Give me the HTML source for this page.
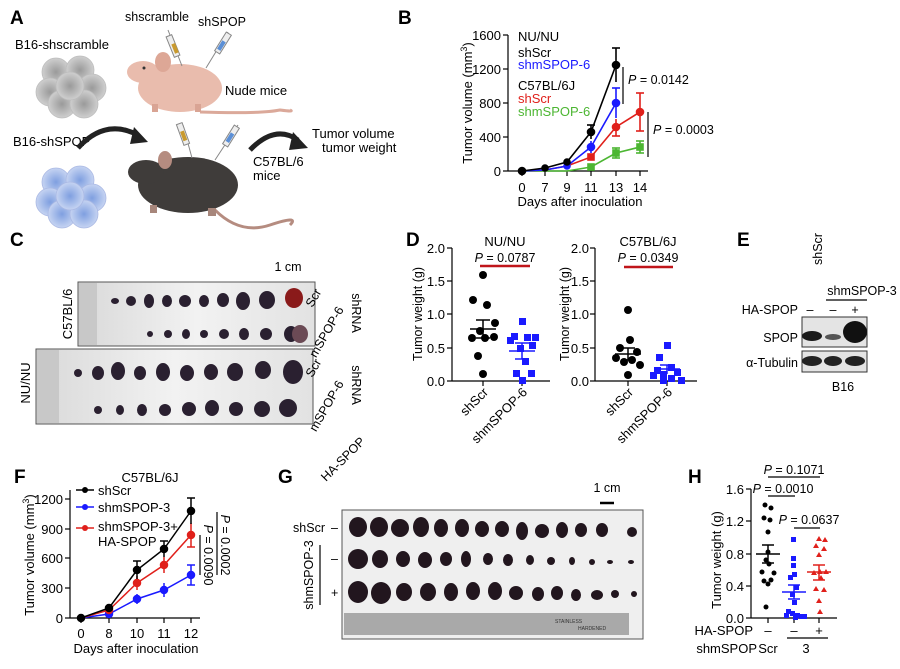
<!DOCTYPE html>
<html><head><meta charset="utf-8"><style>
html,body{margin:0;padding:0;background:#fff;}
svg{display:block;font-family:"Liberation Sans",Arial,sans-serif;}
</style></head><body>
<svg width="900" height="669" viewBox="0 0 900 669" xmlns="http://www.w3.org/2000/svg">
<defs>
<radialGradient id="gc" cx="50%" cy="50%" r="50%"><stop offset="0" stop-color="#9a9a9a"/><stop offset="1" stop-color="#cfcfcf"/></radialGradient>
<radialGradient id="bc" cx="50%" cy="50%" r="50%"><stop offset="0" stop-color="#7f9fe0"/><stop offset="1" stop-color="#c6d4f2"/></radialGradient>
<linearGradient id="ph" x1="0" x2="1"><stop offset="0" stop-color="#d9d9d9"/><stop offset="0.5" stop-color="#f2f2f2"/><stop offset="1" stop-color="#e2e2e2"/></linearGradient>
</defs>

<!-- Panel A -->
<text x="10" y="24" font-size="19" font-weight="bold">A</text>
<text x="157" y="21" font-size="12.5" text-anchor="middle">shscramble</text>
<text x="222" y="26" font-size="12.5" text-anchor="middle">shSPOP</text>
<text x="15" y="49" font-size="13">B16-shscramble</text>
<text x="225" y="95" font-size="13">Nude mice</text>
<text x="13" y="146" font-size="13">B16-shSPOP</text>
<text x="312" y="138" font-size="13">Tumor volume</text>
<text x="322" y="152" font-size="13">tumor weight</text>
<text x="253" y="166" font-size="13">C57BL/6</text>
<text x="253" y="180" font-size="13">mice</text>
<g fill="url(#gc)" stroke="#bdbdbd" stroke-width="0.8">
<circle cx="56" cy="72" r="14"/><circle cx="80" cy="70" r="14"/><circle cx="92" cy="88" r="14"/><circle cx="50" cy="92" r="14"/><circle cx="62" cy="104" r="14"/><circle cx="84" cy="104" r="14"/><circle cx="70" cy="86" r="14"/>
</g>
<g fill="url(#bc)" stroke="#aab9e4" stroke-width="0.8">
<circle cx="56" cy="182" r="14"/><circle cx="80" cy="180" r="14"/><circle cx="92" cy="198" r="14"/><circle cx="50" cy="202" r="14"/><circle cx="62" cy="214" r="14"/><circle cx="84" cy="214" r="14"/><circle cx="70" cy="196" r="14"/>
</g>
<path d="M200,112 Q260,114 280,110 Q295,112 290,110" stroke="#dba99a" stroke-width="3" fill="none"/>
<ellipse cx="180" cy="88" rx="42" ry="24" fill="#e9bcad"/>
<ellipse cx="143" cy="72" rx="16" ry="11" fill="#e9bcad"/>
<ellipse cx="163" cy="62" rx="8" ry="10" fill="#dda796"/>
<rect x="152" y="104" width="6" height="8" fill="#d9a494"/><rect x="195" y="104" width="6" height="8" fill="#d9a494"/>
<circle cx="144" cy="68" r="1.5" fill="#333"/>
<path d="M215,210 Q240,235 270,225 Q300,215 290,225" stroke="#b58c80" stroke-width="3" fill="none"/>
<ellipse cx="188" cy="185" rx="50" ry="28" fill="#3f3c3a"/>
<ellipse cx="146" cy="172" rx="18" ry="12" fill="#3f3c3a"/>
<ellipse cx="165" cy="160" rx="7" ry="9" fill="#b58c80"/>
<rect x="150" y="205" width="7" height="8" fill="#a7867b"/><rect x="208" y="208" width="8" height="8" fill="#a7867b"/>
<g stroke-width="1"><line x1="168" y1="30" x2="182" y2="66" stroke="#888"/><rect x="170" y="35" width="6" height="22" fill="#eee" stroke="#888" transform="rotate(-22 173 46)"/><rect x="172" y="44" width="4" height="10" fill="#c99a2e" transform="rotate(-22 173 46)"/>
<line x1="228" y1="32" x2="206" y2="68" stroke="#888"/><rect x="220" y="32" width="6" height="22" fill="#eee" stroke="#888" transform="rotate(32 223 43)"/><rect x="221" y="41" width="4" height="10" fill="#5b8fd6" transform="rotate(32 223 43)"/>
<line x1="183" y1="125" x2="192" y2="158" stroke="#888"/><rect x="180" y="123" width="6" height="22" fill="#eee" stroke="#888" transform="rotate(-20 183 134)"/><rect x="181" y="131" width="4" height="10" fill="#c99a2e" transform="rotate(-20 183 134)"/>
<line x1="238" y1="125" x2="215" y2="160" stroke="#888"/><rect x="228" y="125" width="6" height="22" fill="#eee" stroke="#888" transform="rotate(32 231 136)"/><rect x="229" y="133" width="4" height="10" fill="#5b8fd6" transform="rotate(32 231 136)"/></g>
<path d="M78,148 Q105,118 138,135" stroke="#222" stroke-width="5" fill="none"/><polygon points="134,127 148,142 130,144" fill="#222"/>
<path d="M250,150 Q275,124 298,140" stroke="#222" stroke-width="5" fill="none"/><polygon points="293,132 308,148 289,150" fill="#222"/>

<!-- Panel B -->
<text x="398" y="24" font-size="19" font-weight="bold">B</text>
<g font-size="13">
<text x="518" y="41">NU/NU</text><text x="518" y="57">shScr</text><text x="518" y="69" fill="#1a1aff">shmSPOP-6</text>
<text x="518" y="90">C57BL/6J</text><text x="518" y="103" fill="#e0201b">shScr</text><text x="518" y="116" fill="#4cb632">shmSPOP-6</text>
</g>
<g stroke="#000" stroke-width="1.2" fill="none">
<line x1="508" y1="35" x2="508" y2="171"/><line x1="508" y1="171" x2="648" y2="171"/>
<line x1="503" y1="35" x2="508" y2="35"/><line x1="503" y1="69" x2="508" y2="69"/><line x1="503" y1="103" x2="508" y2="103"/><line x1="503" y1="137" x2="508" y2="137"/><line x1="503" y1="171" x2="508" y2="171"/>
<line x1="522" y1="171" x2="522" y2="176"/><line x1="545" y1="171" x2="545" y2="176"/><line x1="567" y1="171" x2="567" y2="176"/><line x1="591" y1="171" x2="591" y2="176"/><line x1="616" y1="171" x2="616" y2="176"/><line x1="640" y1="171" x2="640" y2="176"/>
</g>
<g font-size="13" text-anchor="end"><text x="501" y="40">1600</text><text x="501" y="74">1200</text><text x="501" y="108">800</text><text x="501" y="142">400</text><text x="501" y="176">0</text></g>
<g font-size="13" text-anchor="middle"><text x="522" y="192">0</text><text x="545" y="192">7</text><text x="567" y="192">9</text><text x="591" y="192">11</text><text x="616" y="192">13</text><text x="640" y="192">14</text>
<text x="580" y="206">Days after inoculation</text></g>
<text transform="translate(472,103) rotate(-90)" font-size="13" text-anchor="middle">Tumor volume (mm<tspan font-size="9" dy="-5">3</tspan><tspan dy="5">)</tspan></text>
<g stroke="#4cb632" fill="#4cb632" stroke-width="1.6"><polyline fill="none" points="522,171 545,171 567,171 591,167 616,153 640,147"/><line x1="616" y1="148" x2="616" y2="158"/><line x1="640" y1="141" x2="640" y2="153"/><line x1="612" y1="148" x2="620" y2="148"/><line x1="612" y1="158" x2="620" y2="158"/><line x1="636" y1="141" x2="644" y2="141"/><line x1="636" y1="153" x2="644" y2="153"/>
<rect x="588" y="164" width="6" height="6"/><rect x="613" y="150" width="6" height="6"/><rect x="637" y="144" width="6" height="6"/></g>
<g stroke="#e0201b" fill="#e0201b" stroke-width="1.6"><polyline fill="none" points="522,171 545,170 567,166 591,157 616,127 640,112"/><line x1="616" y1="119" x2="616" y2="136"/><line x1="640" y1="93" x2="640" y2="131"/><line x1="612" y1="136" x2="620" y2="136"/><line x1="636" y1="93" x2="644" y2="93"/><line x1="636" y1="131" x2="644" y2="131"/>
<rect x="588" y="154" width="6" height="6"/><circle cx="616" cy="127" r="3.5"/><circle cx="640" cy="112" r="3.5"/></g>
<g stroke="#1a1aff" fill="#1a1aff" stroke-width="1.6"><polyline fill="none" points="522,171 545,170 567,166 591,147 616,103"/><line x1="616" y1="88" x2="616" y2="118"/><line x1="612" y1="88" x2="620" y2="88"/><line x1="591" y1="141" x2="591" y2="153"/><circle cx="591" cy="147" r="3.5"/><circle cx="616" cy="103" r="3.5"/><circle cx="567" cy="166" r="3"/></g>
<g stroke="#000" fill="#000" stroke-width="1.6"><polyline fill="none" points="522,171 545,168 567,162 591,132 616,65"/><line x1="616" y1="48" x2="616" y2="82"/><line x1="612" y1="48" x2="620" y2="48"/><line x1="591" y1="125" x2="591" y2="139"/><line x1="587" y1="125" x2="595" y2="125"/><circle cx="522" cy="171" r="3.5"/><circle cx="545" cy="168" r="3"/><circle cx="567" cy="162" r="3"/><circle cx="591" cy="132" r="3.5"/><circle cx="616" cy="65" r="3.5"/></g>
<line x1="623" y1="67" x2="623" y2="104" stroke="#000" stroke-width="1.2"/>
<line x1="648" y1="112" x2="648" y2="157" stroke="#000" stroke-width="1.2"/>
<text x="628" y="84" font-size="12.5"><tspan font-style="italic">P</tspan> = 0.0142</text>
<text x="653" y="134" font-size="12.5"><tspan font-style="italic">P</tspan> = 0.0003</text>

<!-- Panel C -->
<text x="10" y="246" font-size="19" font-weight="bold">C</text>
<text x="288" y="271" font-size="12.5" text-anchor="middle">1 cm</text>
<line x1="282" y1="285" x2="295" y2="285" stroke="#000" stroke-width="2.5"/>
<rect x="78" y="282" width="237" height="64" fill="url(#ph)" stroke="#555"/>
<rect x="79" y="283" width="18" height="62" fill="#c8c8c8"/>
<rect x="36" y="349" width="277" height="75" fill="url(#ph)" stroke="#555"/>
<rect x="37" y="350" width="22" height="73" fill="#c8c8c8"/>
<g fill="#2a2030">
<ellipse cx="115" cy="301" rx="4" ry="3"/><ellipse cx="131" cy="301" rx="5" ry="5"/><ellipse cx="149" cy="301" rx="5" ry="7"/><ellipse cx="167" cy="301" rx="5" ry="6"/><ellipse cx="185" cy="301" rx="6" ry="6"/><ellipse cx="204" cy="301" rx="5" ry="6"/><ellipse cx="223" cy="300" rx="6" ry="7"/><ellipse cx="243" cy="301" rx="7" ry="9"/><ellipse cx="267" cy="300" rx="8" ry="9"/>
<ellipse cx="150" cy="334" rx="3" ry="3"/><ellipse cx="168" cy="334" rx="4" ry="4"/><ellipse cx="186" cy="334" rx="4" ry="5"/><ellipse cx="204" cy="334" rx="4" ry="4"/><ellipse cx="224" cy="334" rx="5" ry="5"/><ellipse cx="244" cy="334" rx="5" ry="6"/><ellipse cx="266" cy="334" rx="6" ry="6"/><ellipse cx="291" cy="334" rx="7" ry="8"/>
<ellipse cx="78" cy="373" rx="4" ry="4"/><ellipse cx="98" cy="373" rx="6" ry="7"/><ellipse cx="118" cy="371" rx="7" ry="9"/><ellipse cx="140" cy="373" rx="6" ry="7"/><ellipse cx="163" cy="372" rx="7" ry="9"/><ellipse cx="187" cy="373" rx="7" ry="8"/><ellipse cx="211" cy="372" rx="7" ry="8"/><ellipse cx="235" cy="372" rx="8" ry="9"/><ellipse cx="263" cy="370" rx="8" ry="9"/><ellipse cx="293" cy="372" rx="10" ry="12"/>
<ellipse cx="98" cy="410" rx="4" ry="4"/><ellipse cx="120" cy="410" rx="4" ry="5"/><ellipse cx="142" cy="410" rx="5" ry="6"/><ellipse cx="165" cy="410" rx="6" ry="6"/><ellipse cx="189" cy="409" rx="7" ry="7"/><ellipse cx="212" cy="408" rx="7" ry="8"/><ellipse cx="236" cy="409" rx="7" ry="7"/><ellipse cx="262" cy="409" rx="8" ry="8"/><ellipse cx="288" cy="408" rx="9" ry="9"/>
</g>
<ellipse cx="294" cy="298" rx="9" ry="10" fill="#8a1a1a"/><ellipse cx="300" cy="334" rx="8" ry="9" fill="#6b4a55"/>
<text transform="translate(72,314) rotate(-90)" font-size="13" text-anchor="middle">C57BL/6</text>
<text transform="translate(30,383) rotate(-90)" font-size="13" text-anchor="middle">NU/NU</text>
<g font-size="12.5">
<text transform="translate(317,300) rotate(-60)" text-anchor="middle">Scr</text>
<text transform="translate(330,334) rotate(-60)" text-anchor="middle">mSPOP-6</text>
<text transform="translate(317,370) rotate(-60)" text-anchor="middle">Scr</text>
<text transform="translate(330,408) rotate(-60)" text-anchor="middle">mSPOP-6</text>
<text transform="translate(352,313) rotate(90)" text-anchor="middle">shRNA</text>
<text transform="translate(352,385) rotate(90)" text-anchor="middle">shRNA</text>
</g>

<!-- Panel D -->
<text x="406" y="246" font-size="19" font-weight="bold">D</text>
<g stroke="#000" stroke-width="1.2">
<line x1="452" y1="248" x2="452" y2="381"/><line x1="452" y1="381" x2="550" y2="381"/>
<line x1="447" y1="248" x2="452" y2="248"/><line x1="447" y1="281" x2="452" y2="281"/><line x1="447" y1="314" x2="452" y2="314"/><line x1="447" y1="348" x2="452" y2="348"/><line x1="447" y1="381" x2="452" y2="381"/>
<line x1="483" y1="381" x2="483" y2="386"/><line x1="522" y1="381" x2="522" y2="386"/>
<line x1="595" y1="248" x2="595" y2="381"/><line x1="595" y1="381" x2="697" y2="381"/>
<line x1="590" y1="248" x2="595" y2="248"/><line x1="590" y1="281" x2="595" y2="281"/><line x1="590" y1="314" x2="595" y2="314"/><line x1="590" y1="348" x2="595" y2="348"/><line x1="590" y1="381" x2="595" y2="381"/>
<line x1="628" y1="381" x2="628" y2="386"/><line x1="667" y1="381" x2="667" y2="386"/>
</g>
<g font-size="13" text-anchor="end"><text x="445" y="253">2.0</text><text x="445" y="286">1.5</text><text x="445" y="319">1.0</text><text x="445" y="353">0.5</text><text x="445" y="386">0.0</text>
<text x="589" y="253">2.0</text><text x="589" y="286">1.5</text><text x="589" y="319">1.0</text><text x="589" y="353">0.5</text><text x="589" y="386">0.0</text></g>
<text transform="translate(422,314) rotate(-90)" font-size="12.5" text-anchor="middle">Tumor weight (g)</text>
<text transform="translate(569,314) rotate(-90)" font-size="12.5" text-anchor="middle">Tumor weight (g)</text>
<text x="505" y="246" font-size="13" text-anchor="middle">NU/NU</text>
<text x="648" y="246" font-size="13" text-anchor="middle">C57BL/6J</text>
<text x="505" y="262" font-size="12.5" text-anchor="middle"><tspan font-style="italic">P</tspan> = 0.0787</text>
<text x="648" y="262" font-size="12.5" text-anchor="middle"><tspan font-style="italic">P</tspan> = 0.0349</text>
<line x1="480" y1="266" x2="530" y2="266" stroke="#c0151a" stroke-width="2.5"/>
<line x1="624" y1="267" x2="673" y2="267" stroke="#c0151a" stroke-width="2.5"/>
<g font-size="13" text-anchor="end">
<text transform="translate(489,393) rotate(-45)">shScr</text><text transform="translate(528,393) rotate(-45)">shmSPOP-6</text>
<text transform="translate(634,393) rotate(-45)">shScr</text><text transform="translate(673,393) rotate(-45)">shmSPOP-6</text>
</g>
<g fill="#000">
<circle cx="483" cy="275" r="4"/><circle cx="473" cy="300" r="4"/><circle cx="487" cy="305" r="4"/><circle cx="495" cy="323" r="4"/><circle cx="480" cy="331" r="4"/><circle cx="472" cy="338" r="4"/><circle cx="485" cy="338" r="4"/><circle cx="494" cy="337" r="4"/><circle cx="478" cy="356" r="4"/><circle cx="483" cy="374" r="4"/>
<circle cx="628" cy="310" r="4"/><circle cx="630" cy="340" r="4"/><circle cx="620" cy="348" r="4"/><circle cx="637" cy="352" r="4"/><circle cx="616" cy="358" r="4"/><circle cx="632" cy="360" r="4"/><circle cx="624" cy="362" r="4"/><circle cx="640" cy="365" r="4"/><circle cx="628" cy="375" r="4"/>
</g>
<g stroke="#000" stroke-width="1.5"><line x1="470" y1="329" x2="496" y2="329"/><line x1="483" y1="320" x2="483" y2="338"/><line x1="476" y1="320" x2="490" y2="320"/><line x1="476" y1="338" x2="490" y2="338"/>
<line x1="615" y1="354" x2="641" y2="354"/><line x1="628" y1="348" x2="628" y2="360"/><line x1="621" y1="348" x2="635" y2="348"/><line x1="621" y1="360" x2="635" y2="360"/></g>
<g fill="#1a1aff">
<rect x="519" y="318" width="7" height="7"/><rect x="511" y="333" width="7" height="7"/><rect x="524" y="334" width="7" height="7"/><rect x="532" y="334" width="7" height="7"/><rect x="507" y="337" width="7" height="7"/><rect x="529" y="342" width="7" height="7"/><rect x="517" y="345" width="7" height="7"/><rect x="522" y="358" width="7" height="7"/><rect x="513" y="370" width="7" height="7"/><rect x="528" y="370" width="7" height="7"/><rect x="519" y="377" width="7" height="7"/>
<rect x="664" y="342" width="7" height="7"/><rect x="656" y="354" width="7" height="7"/><rect x="668" y="364" width="7" height="7"/><rect x="654" y="367" width="7" height="7"/><rect x="674" y="369" width="7" height="7"/><rect x="660" y="371" width="7" height="7"/><rect x="650" y="372" width="7" height="7"/><rect x="668" y="375" width="7" height="7"/><rect x="678" y="377" width="7" height="7"/><rect x="660" y="377" width="7" height="7"/>
</g>
<g stroke="#1a1aff" stroke-width="1.5"><line x1="509" y1="351" x2="535" y2="351"/><line x1="522" y1="343" x2="522" y2="359"/><line x1="515" y1="343" x2="529" y2="343"/><line x1="515" y1="359" x2="529" y2="359"/>
<line x1="654" y1="369" x2="680" y2="369"/><line x1="667" y1="365" x2="667" y2="374"/><line x1="660" y1="365" x2="674" y2="365"/></g>

<!-- Panel E -->
<text x="737" y="246" font-size="19" font-weight="bold">E</text>
<text transform="translate(822,265) rotate(-90)" font-size="12.5">shScr</text>
<text x="862" y="295" font-size="12.5" text-anchor="middle">shmSPOP-3</text>
<line x1="826" y1="300" x2="867" y2="300" stroke="#000" stroke-width="1.2"/>
<text x="798" y="314" font-size="12.5" text-anchor="end">HA-SPOP</text>
<text x="810" y="314" font-size="12.5" text-anchor="middle">–</text><text x="833" y="314" font-size="12.5" text-anchor="middle">–</text><text x="855" y="314" font-size="12.5" text-anchor="middle">+</text>
<text x="798" y="342" font-size="12.5" text-anchor="end">SPOP</text>
<text x="798" y="367" font-size="12.5" text-anchor="end">α-Tubulin</text>
<rect x="802" y="317" width="65" height="30" fill="#e4e4e4" stroke="#333"/>
<rect x="802" y="351" width="65" height="21" fill="#e4e4e4" stroke="#333"/>
<ellipse cx="812" cy="336" rx="10" ry="5" fill="#1a1a1a"/><ellipse cx="833" cy="337" rx="8" ry="3" fill="#555"/><ellipse cx="855" cy="332" rx="12" ry="11" fill="#111"/>
<ellipse cx="812" cy="361" rx="10" ry="5" fill="#222"/><ellipse cx="833" cy="361" rx="9" ry="5" fill="#222"/><ellipse cx="855" cy="361" rx="10" ry="5" fill="#222"/>
<text x="843" y="391" font-size="12.5" text-anchor="middle">B16</text>

<!-- Panel F -->
<text x="14" y="483" font-size="19" font-weight="bold">F</text>
<text x="150" y="482" font-size="13" text-anchor="middle">C57BL/6J</text>
<g stroke="#000" stroke-width="1.2">
<line x1="70" y1="490" x2="70" y2="618"/><line x1="70" y1="618" x2="200" y2="618"/>
<line x1="65" y1="499" x2="70" y2="499"/><line x1="65" y1="529" x2="70" y2="529"/><line x1="65" y1="558" x2="70" y2="558"/><line x1="65" y1="588" x2="70" y2="588"/><line x1="65" y1="618" x2="70" y2="618"/>
<line x1="81" y1="618" x2="81" y2="623"/><line x1="109" y1="618" x2="109" y2="623"/><line x1="137" y1="618" x2="137" y2="623"/><line x1="164" y1="618" x2="164" y2="623"/><line x1="191" y1="618" x2="191" y2="623"/>
</g>
<g font-size="13" text-anchor="end"><text x="63" y="504">1200</text><text x="63" y="534">900</text><text x="63" y="563">600</text><text x="63" y="593">300</text><text x="63" y="623">0</text></g>
<g font-size="13" text-anchor="middle"><text x="81" y="638">0</text><text x="109" y="638">8</text><text x="137" y="638">10</text><text x="164" y="638">11</text><text x="191" y="638">12</text>
<text x="136" y="653">Days after inoculation</text></g>
<text transform="translate(34,555) rotate(-90)" font-size="13" text-anchor="middle">Tumor volume (mm<tspan font-size="9" dy="-5">3</tspan><tspan dy="5">)</tspan></text>
<g font-size="13"><text x="98" y="495">shScr</text><text x="98" y="512">shmSPOP-3</text><text x="98" y="531">shmSPOP-3+</text><text x="98" y="546">HA-SPOP</text></g>
<g stroke-width="1.5"><line x1="76" y1="490" x2="94" y2="490" stroke="#000"/><circle cx="85" cy="490" r="3" fill="#000"/>
<line x1="76" y1="507" x2="94" y2="507" stroke="#1a1aff"/><circle cx="85" cy="507" r="3" fill="#1a1aff"/>
<line x1="76" y1="528" x2="94" y2="528" stroke="#e0201b"/><circle cx="85" cy="528" r="3" fill="#e0201b"/></g>
<g stroke="#1a1aff" fill="#1a1aff" stroke-width="1.5"><polyline fill="none" points="81,618 109,614 137,599 164,590 191,575"/><line x1="137" y1="594" x2="137" y2="604"/><line x1="164" y1="583" x2="164" y2="597"/><line x1="191" y1="565" x2="191" y2="585"/><line x1="187" y1="565" x2="195" y2="565"/><line x1="187" y1="585" x2="195" y2="585"/><circle cx="109" cy="614" r="3.5"/><circle cx="137" cy="599" r="3.5"/><circle cx="164" cy="590" r="3.5"/><circle cx="191" cy="575" r="3.5"/></g>
<g stroke="#e0201b" fill="#e0201b" stroke-width="1.5"><polyline fill="none" points="81,618 109,610 137,583 164,565 191,535"/><line x1="137" y1="576" x2="137" y2="590"/><line x1="164" y1="557" x2="164" y2="573"/><line x1="191" y1="523" x2="191" y2="547"/><line x1="187" y1="547" x2="195" y2="547"/><circle cx="109" cy="610" r="3.5"/><circle cx="137" cy="583" r="3.5"/><circle cx="164" cy="565" r="3.5"/><circle cx="191" cy="535" r="3.5"/></g>
<g stroke="#000" fill="#000" stroke-width="1.5"><polyline fill="none" points="81,618 109,608 137,570 164,549 191,511"/><line x1="109" y1="604" x2="109" y2="612"/><line x1="137" y1="561" x2="137" y2="579"/><line x1="133" y1="561" x2="141" y2="561"/><line x1="164" y1="541" x2="164" y2="557"/><line x1="160" y1="541" x2="168" y2="541"/><line x1="191" y1="498" x2="191" y2="524"/><line x1="187" y1="498" x2="195" y2="498"/><circle cx="81" cy="618" r="3.5"/><circle cx="109" cy="608" r="3.5"/><circle cx="137" cy="570" r="3.5"/><circle cx="164" cy="549" r="3.5"/><circle cx="191" cy="511" r="3.5"/></g>
<line x1="200" y1="535" x2="200" y2="575" stroke="#000" stroke-width="1.2"/>
<line x1="217" y1="512" x2="217" y2="575" stroke="#000" stroke-width="1.2"/>
<text transform="translate(204,555) rotate(90)" font-size="12.5" text-anchor="middle"><tspan font-style="italic">P</tspan> = 0.0090</text>
<text transform="translate(221,545) rotate(90)" font-size="12.5" text-anchor="middle"><tspan font-style="italic">P</tspan> = 0.0002</text>

<!-- Panel G -->
<text x="278" y="483" font-size="19" font-weight="bold">G</text>
<text transform="translate(326,482) rotate(-45)" font-size="12.5">HA-SPOP</text>
<text x="325" y="532" font-size="12.5" text-anchor="end">shScr</text>
<text x="331" y="532" font-size="12.5">–</text><text x="331" y="563" font-size="12.5">–</text><text x="331" y="597" font-size="12.5">+</text>
<line x1="320" y1="545" x2="320" y2="605" stroke="#000" stroke-width="1.2"/>
<text transform="translate(313,575) rotate(-90)" font-size="12.5" text-anchor="middle">shmSPOP-3</text>
<text x="607" y="492" font-size="12.5" text-anchor="middle">1 cm</text>
<line x1="600" y1="503" x2="614" y2="503" stroke="#000" stroke-width="2.5"/>
<rect x="342" y="510" width="301" height="129" fill="#efefef" stroke="#555"/>
<rect x="344" y="613" width="285" height="22" fill="#a9a9a9"/>
<text x="555" y="623" font-size="5" fill="#333">STAINLESS</text><text x="578" y="630" font-size="5" fill="#333">HARDENED</text>
<g fill="#22161e">
<ellipse cx="358" cy="527" rx="9" ry="10"/><ellipse cx="379" cy="527" rx="9" ry="10"/><ellipse cx="400" cy="528" rx="9" ry="9"/><ellipse cx="421" cy="527" rx="8" ry="10"/><ellipse cx="441" cy="528" rx="7" ry="9"/><ellipse cx="462" cy="528" rx="7" ry="9"/><ellipse cx="482" cy="529" rx="7" ry="8"/><ellipse cx="502" cy="529" rx="7" ry="8"/><ellipse cx="522" cy="531" rx="6" ry="9"/><ellipse cx="542" cy="531" rx="7" ry="7"/><ellipse cx="562" cy="530" rx="6" ry="8"/><ellipse cx="581" cy="530" rx="6" ry="7"/><ellipse cx="602" cy="530" rx="6" ry="7"/><ellipse cx="632" cy="532" rx="5" ry="5"/>
<ellipse cx="358" cy="559" rx="10" ry="10"/><ellipse cx="380" cy="559" rx="8" ry="9"/><ellipse cx="403" cy="559" rx="7" ry="8"/><ellipse cx="425" cy="560" rx="7" ry="8"/><ellipse cx="446" cy="559" rx="6" ry="7"/><ellipse cx="466" cy="559" rx="5" ry="8"/><ellipse cx="508" cy="560" rx="5" ry="6"/><ellipse cx="530" cy="560" rx="4" ry="5"/><ellipse cx="551" cy="561" rx="4" ry="4"/><ellipse cx="572" cy="561" rx="3" ry="4"/><ellipse cx="592" cy="562" rx="3" ry="3"/><ellipse cx="610" cy="562" rx="3" ry="2"/><ellipse cx="631" cy="562" rx="3" ry="2"/><ellipse cx="488" cy="559" rx="5" ry="6"/>
<ellipse cx="358" cy="592" rx="10" ry="11"/><ellipse cx="381" cy="593" rx="10" ry="11"/><ellipse cx="404" cy="592" rx="8" ry="9"/><ellipse cx="428" cy="592" rx="8" ry="9"/><ellipse cx="451" cy="592" rx="7" ry="9"/><ellipse cx="473" cy="591" rx="7" ry="9"/><ellipse cx="495" cy="591" rx="7" ry="9"/><ellipse cx="516" cy="593" rx="7" ry="7"/><ellipse cx="538" cy="594" rx="6" ry="7"/><ellipse cx="557" cy="593" rx="6" ry="7"/><ellipse cx="576" cy="595" rx="5" ry="6"/><ellipse cx="597" cy="595" rx="6" ry="5"/><ellipse cx="615" cy="594" rx="4" ry="4"/><ellipse cx="634" cy="594" rx="3" ry="3"/>
</g>

<!-- Panel H -->
<text x="688" y="483" font-size="19" font-weight="bold">H</text>
<g stroke="#000" stroke-width="1.2">
<line x1="751" y1="489" x2="751" y2="618"/><line x1="751" y1="618" x2="837" y2="618"/>
<line x1="746" y1="489" x2="751" y2="489"/><line x1="746" y1="521" x2="751" y2="521"/><line x1="746" y1="554" x2="751" y2="554"/><line x1="746" y1="586" x2="751" y2="586"/><line x1="746" y1="618" x2="751" y2="618"/>
<line x1="768" y1="618" x2="768" y2="623"/><line x1="794" y1="618" x2="794" y2="623"/><line x1="819" y1="618" x2="819" y2="623"/>
<line x1="768" y1="477" x2="820" y2="477"/><line x1="768" y1="496" x2="795" y2="496"/><line x1="794" y1="528" x2="820" y2="528"/>
<line x1="787" y1="638" x2="828" y2="638"/>
</g>
<g font-size="13" text-anchor="end"><text x="744" y="494">1.6</text><text x="744" y="526">1.2</text><text x="744" y="559">0.8</text><text x="744" y="591">0.4</text><text x="744" y="623">0.0</text></g>
<text transform="translate(721,560) rotate(-90)" font-size="13" text-anchor="middle">Tumor weight (g)</text>
<g font-size="12.5" text-anchor="middle"><text x="794" y="474"><tspan font-style="italic">P</tspan> = 0.1071</text><text x="783" y="493"><tspan font-style="italic">P</tspan> = 0.0010</text><text x="809" y="524"><tspan font-style="italic">P</tspan> = 0.0637</text></g>
<g font-size="13"><text x="753" y="635" text-anchor="end">HA-SPOP</text><text x="768" y="635" text-anchor="middle">–</text><text x="794" y="635" text-anchor="middle">–</text><text x="819" y="635" text-anchor="middle">+</text>
<text x="757" y="653" text-anchor="end">shmSPOP</text><text x="768" y="653" text-anchor="middle">Scr</text><text x="806" y="653" text-anchor="middle">3</text></g>
<g fill="#000">
<circle cx="765" cy="505" r="2.5"/><circle cx="771" cy="508" r="2.5"/><circle cx="764" cy="518" r="2.5"/><circle cx="770" cy="520" r="2.5"/><circle cx="768" cy="532" r="2.5"/><circle cx="768" cy="552" r="2.5"/><circle cx="766" cy="560" r="2.5"/><circle cx="769" cy="564" r="2.5"/><circle cx="762" cy="572" r="2.5"/><circle cx="774" cy="573" r="2.5"/><circle cx="764" cy="581" r="2.5"/><circle cx="771" cy="580" r="2.5"/><circle cx="768" cy="584" r="2.5"/><circle cx="766" cy="607" r="2.5"/>
</g>
<g stroke="#000" stroke-width="1.5"><line x1="756" y1="554" x2="780" y2="554"/><line x1="768" y1="545" x2="768" y2="563"/><line x1="762" y1="545" x2="774" y2="545"/><line x1="762" y1="563" x2="774" y2="563"/></g>
<g fill="#1a1aff">
<rect x="791" y="537" width="5" height="5"/><rect x="791" y="556" width="5" height="5"/><rect x="791" y="563" width="5" height="5"/><rect x="792" y="572" width="5" height="5"/><rect x="788" y="575" width="5" height="5"/><rect x="794" y="585" width="5" height="5"/><rect x="790" y="592" width="5" height="5"/><rect x="792" y="600" width="5" height="5"/><rect x="786" y="609" width="5" height="5"/><rect x="790" y="611" width="5" height="5"/><rect x="795" y="613" width="5" height="5"/><rect x="799" y="614" width="5" height="5"/><rect x="784" y="613" width="5" height="5"/><rect x="802" y="614" width="5" height="5"/><rect x="793" y="615" width="5" height="5"/>
</g>
<g stroke="#1a1aff" stroke-width="1.5"><line x1="782" y1="592" x2="806" y2="592"/><line x1="794" y1="585" x2="794" y2="599"/><line x1="788" y1="585" x2="800" y2="585"/><line x1="788" y1="599" x2="800" y2="599"/></g>
<g fill="#e0201b">
<polygon points="816,541 819,536 822,541"/><polygon points="822,542 825,537 828,542"/><polygon points="813,548 816,543 819,548"/><polygon points="821,551 824,546 827,551"/><polygon points="816,557 819,552 822,557"/><polygon points="811,575 814,570 817,575"/><polygon points="817,574 820,569 823,574"/><polygon points="823,574 826,569 829,574"/><polygon points="818,580 821,575 824,580"/><polygon points="813,591 816,586 819,591"/><polygon points="821,592 824,587 827,592"/><polygon points="816,603 819,598 822,603"/><polygon points="817,614 820,609 823,614"/>
</g>
<g stroke="#e0201b" stroke-width="1.5"><line x1="807" y1="572" x2="831" y2="572"/><line x1="819" y1="565" x2="819" y2="580"/><line x1="813" y1="565" x2="825" y2="565"/><line x1="813" y1="580" x2="825" y2="580"/></g>
</svg>
</body></html>
